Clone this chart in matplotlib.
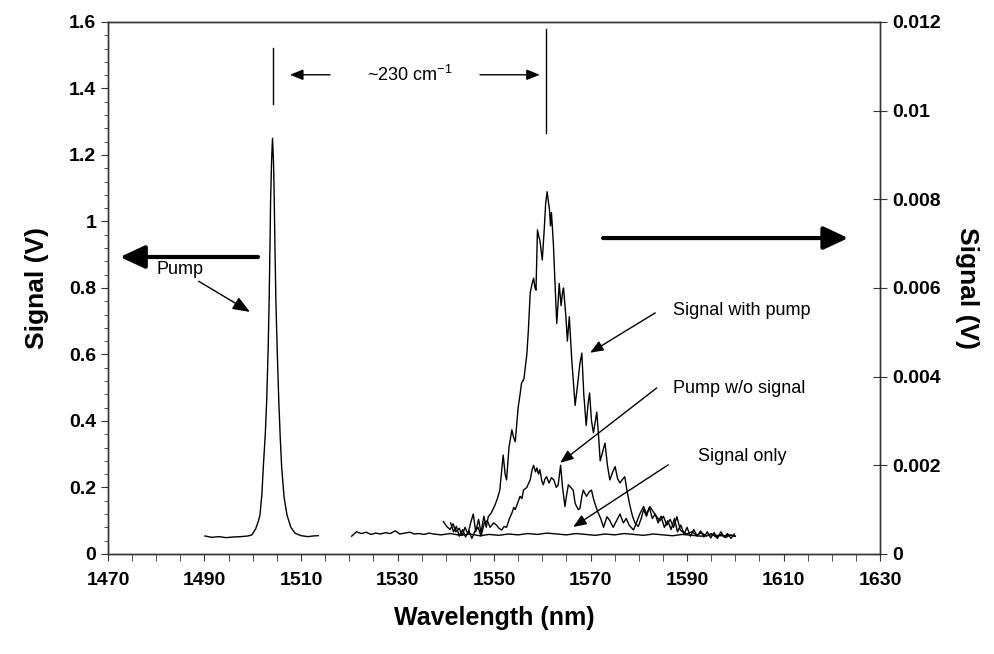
import matplotlib
matplotlib.use("Agg")
import matplotlib.pyplot as plt
from matplotlib import font_manager
from matplotlib.ticker import MultipleLocator

# pick a condensed Arial-like face when available
names = set(f.name for f in font_manager.fontManager.ttflist)
fam = "Liberation Sans Narrow" if "Liberation Sans Narrow" in names else "Liberation Sans"
plt.rcParams['font.family'] = [fam, 'DejaVu Sans']

# pump spectrum (left axis, V)
pump_wl = [1490.1, 1491.5, 1493.0, 1494.5, 1496.0, 1497.5, 1499.0, 1499.8, 1500.6, 1501.2,
           1501.5, 1501.9, 1502.2, 1502.6, 1502.9, 1503.2, 1503.4, 1503.6, 1503.7, 1503.9,
           1504.1, 1504.3, 1504.4, 1504.6, 1504.8, 1505.1, 1505.4, 1505.7, 1506.0, 1506.5,
           1507.1, 1507.9, 1508.8, 1510.0, 1511.5, 1512.5, 1513.6]
pump_v = [0.054, 0.050, 0.052, 0.049, 0.051, 0.052, 0.054, 0.057, 0.075, 0.100,
          0.117, 0.180, 0.263, 0.360, 0.463, 0.620, 0.760, 0.950, 1.060, 1.180,
          1.250, 1.180, 1.115, 0.930, 0.760, 0.600, 0.460, 0.350, 0.260, 0.170,
          0.117, 0.080, 0.062, 0.055, 0.052, 0.054, 0.055]

# signal with pump (right axis, V)
swp_wl = [1539.5, 1540.2, 1540.9, 1541.5, 1542.1, 1542.8, 1543.4, 1544.0, 1544.6, 1545.2,
          1545.7, 1546.2, 1546.8, 1547.3, 1547.9, 1548.4, 1548.8, 1549.4, 1550.2, 1550.7,
          1551.2, 1551.6, 1551.9, 1552.3, 1552.6, 1553.1, 1553.7, 1554.0, 1554.4, 1555.0,
          1555.4, 1555.7, 1556.2, 1556.8, 1557.1, 1557.5, 1557.9, 1558.2, 1558.5, 1558.7,
          1559.0, 1559.3, 1559.5, 1560.0, 1560.4, 1560.7, 1561.0, 1561.2, 1561.5, 1561.7,
          1561.9, 1562.3, 1562.6, 1563.0, 1563.3, 1563.5, 1563.9, 1564.2, 1564.4, 1564.9,
          1565.2, 1565.6, 1566.1, 1566.8, 1567.3, 1567.8, 1568.2, 1568.6, 1569.1, 1569.5,
          1569.8, 1570.2, 1570.6, 1571.0, 1571.3, 1571.7, 1572.0, 1572.5, 1573.0, 1573.5,
          1574.0, 1574.6, 1575.1, 1575.6, 1576.1, 1576.6, 1577.1, 1577.6, 1578.2, 1578.7,
          1579.2, 1579.9, 1580.5, 1581.0, 1581.6, 1582.2, 1582.8, 1583.4, 1584.0, 1584.6,
          1585.3, 1586.0, 1586.7, 1587.4, 1588.0, 1588.7, 1589.4, 1590.0, 1590.7, 1591.4,
          1592.1, 1592.8, 1593.5, 1594.2, 1594.9, 1595.6, 1596.3, 1597.0, 1597.7, 1598.4,
          1599.1, 1599.8]
swp_v = [0.00073, 0.00062, 0.00055, 0.00068, 0.00050, 0.00058, 0.00042, 0.00060, 0.00045, 0.00072,
         0.00090, 0.00050, 0.00078, 0.00048, 0.00085, 0.00060, 0.00084, 0.00092, 0.00110, 0.00125,
         0.00144, 0.00190, 0.00223, 0.00180, 0.00167, 0.00240, 0.00280, 0.00265, 0.00253, 0.00330,
         0.00360, 0.00385, 0.00395, 0.00450, 0.00501, 0.00589, 0.00610, 0.00622, 0.00600, 0.00595,
         0.00731, 0.00715, 0.00708, 0.00663, 0.00731, 0.00790, 0.00817, 0.00800, 0.00776, 0.00740,
         0.00770, 0.00700, 0.00620, 0.00520, 0.00570, 0.00610, 0.00560, 0.00590, 0.00600, 0.00535,
         0.00480, 0.00535, 0.00440, 0.00335, 0.00380, 0.00430, 0.00453, 0.00360, 0.00290, 0.00340,
         0.00363, 0.00300, 0.00273, 0.00300, 0.00320, 0.00260, 0.00210, 0.00230, 0.00250, 0.00200,
         0.00167, 0.00185, 0.00197, 0.00170, 0.00160, 0.00168, 0.00174, 0.00140, 0.00107, 0.00085,
         0.00070, 0.00062, 0.00080, 0.00100, 0.00085, 0.00105, 0.00080, 0.00090, 0.00070, 0.00085,
         0.00060, 0.00075, 0.00055, 0.00080, 0.00050, 0.00065, 0.00045, 0.00060, 0.00040, 0.00055,
         0.00040, 0.00052, 0.00038, 0.00050, 0.00036, 0.00048, 0.00035, 0.00050, 0.00038, 0.00046,
         0.00035, 0.00045]

# pump without signal (right axis, V)
pws_wl = [1541.0, 1541.6, 1542.2, 1542.8, 1543.5, 1544.1, 1544.8, 1545.4, 1546.0, 1546.7,
          1547.3, 1548.0, 1548.6, 1549.2, 1549.9, 1550.5, 1551.0, 1551.6, 1552.1, 1552.6,
          1553.2, 1553.7, 1554.1, 1554.4, 1554.9, 1555.4, 1555.8, 1556.1, 1556.8, 1557.2,
          1557.5, 1557.9, 1558.2, 1558.6, 1558.9, 1559.2, 1559.5, 1559.9, 1560.2, 1560.6,
          1560.9, 1561.4, 1561.9, 1562.4, 1562.9, 1563.3, 1563.8, 1564.2, 1564.7, 1565.0,
          1565.4, 1565.9, 1566.4, 1566.8, 1567.1, 1567.5, 1567.8, 1568.2, 1568.5, 1568.9,
          1569.2, 1569.7, 1570.2, 1570.6, 1570.9, 1571.5, 1572.1, 1572.7, 1573.4, 1574.0,
          1574.7, 1575.4, 1576.1, 1576.8, 1577.4, 1578.0, 1578.9, 1579.5, 1580.2, 1581.0,
          1581.6, 1582.3, 1583.0, 1583.7, 1584.4, 1585.1, 1585.8, 1586.5, 1587.2, 1587.9,
          1588.6, 1589.3, 1590.0, 1591.0, 1592.0, 1593.0, 1594.0, 1595.0, 1596.0, 1597.0,
          1598.0, 1599.0, 1600.0]
pws_v = [0.00070, 0.00050, 0.00062, 0.00040, 0.00055, 0.00038, 0.00052, 0.00035, 0.00050, 0.00060,
         0.00040, 0.00070, 0.00075, 0.00060, 0.00070, 0.00065, 0.00058, 0.00054, 0.00062, 0.00060,
         0.00080, 0.00092, 0.00105, 0.00100, 0.00115, 0.00130, 0.00125, 0.00144, 0.00150, 0.00160,
         0.00167, 0.00190, 0.00200, 0.00185, 0.00194, 0.00180, 0.00190, 0.00165, 0.00156, 0.00170,
         0.00174, 0.00160, 0.00172, 0.00167, 0.00150, 0.00156, 0.00200, 0.00150, 0.00107, 0.00130,
         0.00156, 0.00150, 0.00144, 0.00115, 0.00107, 0.00100, 0.00103, 0.00130, 0.00144, 0.00135,
         0.00130, 0.00140, 0.00144, 0.00125, 0.00114, 0.00095, 0.00080, 0.00060, 0.00084, 0.00075,
         0.00060, 0.00075, 0.00090, 0.00070, 0.00080, 0.00065, 0.00054, 0.00070, 0.00090, 0.00107,
         0.00090, 0.00107, 0.00095, 0.00084, 0.00075, 0.00085, 0.00065, 0.00078, 0.00060, 0.00084,
         0.00054, 0.00048, 0.00045, 0.00050, 0.00042, 0.00048, 0.00040, 0.00046, 0.00038, 0.00044,
         0.00037, 0.00043, 0.00040]

# signal only (right axis, V)
so_wl = [1520.5, 1521.5, 1522.5, 1523.5, 1524.5, 1525.5, 1526.5, 1527.5, 1528.5, 1529.5,
         1530.5, 1531.5, 1532.5, 1533.5, 1534.5, 1535.5, 1536.5, 1537.5, 1539.0, 1541.0,
         1543.0, 1545.0, 1547.0, 1549.0, 1551.0, 1553.0, 1555.0, 1557.0, 1559.0, 1561.0,
         1563.0, 1565.0, 1567.0, 1569.0, 1571.0, 1573.0, 1575.0, 1577.0, 1579.0, 1581.0,
         1583.0, 1585.0, 1587.0, 1589.0, 1591.0, 1593.0, 1595.0, 1597.0, 1599.0, 1600.0]
so_v = [0.00040, 0.00050, 0.00046, 0.00049, 0.00044, 0.00047, 0.00045, 0.00048, 0.00046, 0.00052,
        0.00045, 0.00047, 0.00049, 0.00045, 0.00046, 0.00044, 0.00047, 0.00045, 0.00043, 0.00046,
        0.00042, 0.00045, 0.00041, 0.00044, 0.00042, 0.00045, 0.00043, 0.00046, 0.00044, 0.00047,
        0.00045, 0.00043, 0.00046, 0.00044, 0.00042, 0.00045, 0.00043, 0.00046, 0.00044, 0.00042,
        0.00045, 0.00043, 0.00041, 0.00044, 0.00042, 0.00040, 0.00043, 0.00041, 0.00042, 0.00040]

left_ticks = [0, 0.2, 0.4, 0.6, 0.8, 1, 1.2, 1.4, 1.6]
right_ticks = [0, 0.002, 0.004, 0.006, 0.008, 0.01, 0.012]
x_ticks = [1470, 1490, 1510, 1530, 1550, 1570, 1590, 1610, 1630]

fig = plt.figure(figsize=(9.95, 6.54), dpi=100)
ax = fig.add_axes([0.1085, 0.153, 0.776, 0.8135])
ax2 = ax.twinx()

ax.plot(pump_wl, pump_v, color='black', lw=1.0)
ax2.plot(so_wl, so_v, color='black', lw=1.0)
ax2.plot(pws_wl, pws_v, color='black', lw=1.0)
ax2.plot(swp_wl, swp_v, color='black', lw=1.0)

ax.set_xlim(1470, 1630)
ax.set_ylim(0, 1.6)
ax2.set_ylim(0, 0.012)
ax.set_xticks(x_ticks)
ax.set_xticklabels([str(t) for t in x_ticks])
ax.set_yticks(left_ticks)
ax.set_yticklabels(['0', '0.2', '0.4', '0.6', '0.8', '1', '1.2', '1.4', '1.6'])
ax2.set_yticks(right_ticks)
ax2.set_yticklabels(['0', '0.002', '0.004', '0.006', '0.008', '0.01', '0.012'])
ax.xaxis.set_minor_locator(MultipleLocator(5))
ax.yaxis.set_minor_locator(MultipleLocator(0.04))

for a in (ax, ax2):
    for s in a.spines.values():
        s.set_color('#333333')
        s.set_linewidth(1.0)
ax.tick_params(axis='both', which='both', direction='out', colors='#333333', labelcolor='black')
ax.tick_params(axis='x', which='major', length=5, labelsize=14, pad=8)
ax.tick_params(axis='x', which='minor', length=5)
ax.tick_params(axis='y', which='major', length=5, labelsize=14)
ax.tick_params(axis='y', which='minor', length=3)
ax.tick_params(top=False, right=False, which='both')
ax2.tick_params(axis='y', direction='inout', length=10, labelsize=14, colors='#333333', labelcolor='black')
for lab in ax.get_xticklabels() + ax.get_yticklabels() + ax2.get_yticklabels():
    lab.set_fontweight('bold')

ax.set_xlabel('Wavelength (nm)', fontsize=18, fontweight='bold', labelpad=12)
ax.set_ylabel('Signal (V)', fontsize=19, fontweight='bold', labelpad=14)
ax2.set_ylabel('Signal (V)', fontsize=19, fontweight='bold', rotation=-90, labelpad=28)

# peak markers and spacing label
ax.plot([1504.2, 1504.2], [1.353, 1.522], color='black', lw=1.0)
ax.plot([1560.8, 1560.8], [1.266, 1.580], color='black', lw=1.0)
ax.text(1532.6, 1.441, '~230 cm$^{\\mathdefault{-1}}$', fontsize=13, ha='center', va='center')
thin = dict(arrowstyle='-|>,head_length=0.8,head_width=0.32', color='black', lw=1.0,
            shrinkA=0, shrinkB=0)
ax.annotate('', xy=(1507.7, 1.441), xytext=(1516.0, 1.441), arrowprops=thin)
ax.annotate('', xy=(1559.5, 1.441), xytext=(1547.1, 1.441), arrowprops=thin)

# axis pointers
thick = dict(arrowstyle='-|>,head_length=1.5,head_width=0.7', color='black', lw=3.0,
             shrinkA=0, shrinkB=0)
ax.annotate('', xy=(1472.5, 0.893), xytext=(1501.1, 0.893), arrowprops=thick)
ax.annotate('', xy=(1623.4, 0.950), xytext=(1572.6, 0.950), arrowprops=thick)

# curve labels
ax.annotate('Pump', xy=(1499.4, 0.728), xytext=(1484.9, 0.854), fontsize=13,
            ha='center', va='center', arrowprops=thin)
ax.text(1587.1, 0.731, 'Signal with pump', fontsize=13, ha='left', va='center')
ax.annotate('', xy=(1569.9, 0.605), xytext=(1583.4, 0.725), arrowprops=thin)
ax.text(1587.1, 0.499, 'Pump w/o signal', fontsize=13, ha='left', va='center')
ax.annotate('', xy=(1563.7, 0.274), xytext=(1583.7, 0.499), arrowprops=thin)
ax.text(1592.3, 0.292, 'Signal only', fontsize=13, ha='left', va='center')
ax.annotate('', xy=(1566.4, 0.081), xytext=(1586.1, 0.268), arrowprops=thin)

fig.savefig('out.png', dpi=100)
